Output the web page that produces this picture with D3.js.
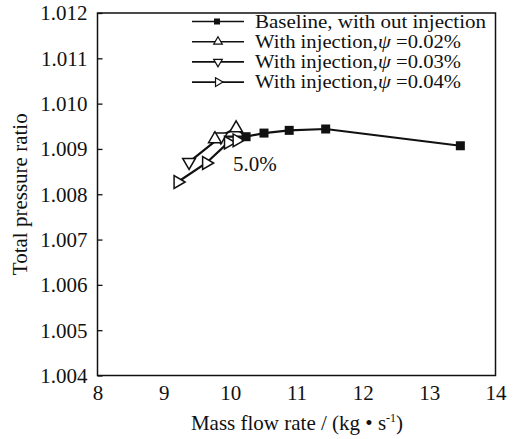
<!DOCTYPE html>
<html><head><meta charset="utf-8">
<script src="https://cdn.jsdelivr.net/npm/d3@7"></script>
<style>body{margin:0;background:#fff}svg{display:block}text{font-family:"Liberation Serif","Times New Roman",serif;fill:#111}</style>
</head><body>
<script>
// Data
const baselineX = [10.24, 10.51, 10.89, 11.44, 13.47];
const baselineY = [1.00927, 1.00935, 1.00941, 1.00944, 1.00907];
const inj02X = [9.77, 10.09];
const inj02Y = [1.00922, 1.00946];
const inj03X = [9.38, 9.86];
const inj03Y = [1.00871, 1.00927];
const inj04X = [9.21, 9.64, 9.97, 10.10];
const inj04Y = [1.00827, 1.00869, 1.00914, 1.00919];
const xTicks = [8, 9, 10, 11, 12, 13, 14];
const yTicks = [1.004, 1.005, 1.006, 1.007, 1.008, 1.009, 1.010, 1.011, 1.012];
const legendLabels = ["Baseline, with out injection", "With injection,ψ =0.02%", "With injection,ψ =0.03%", "With injection,ψ =0.04%"];
const annotation = "5.0%";

const W = 516, H = 439;
const FS = "21px";
const m = {l: 97.5, t: 13, r: 495.5, b: 375.5};
const svg = d3.select("body").append("svg").attr("width", W).attr("height", H);
const x = d3.scaleLinear().domain([8, 14]).range([m.l, m.r]);
const y = d3.scaleLinear().domain([1.004, 1.012]).range([m.b, m.t]);

// frame
svg.append("rect").attr("x", m.l).attr("y", m.t).attr("width", m.r - m.l).attr("height", m.b - m.t)
  .attr("fill", "none").attr("stroke", "#111").attr("stroke-width", 1.5);

// y axis (inward ticks)
const ya = svg.append("g").attr("transform", `translate(${m.l},0)`)
  .call(d3.axisLeft(y).tickValues(yTicks).tickFormat(d3.format(".3f")).tickSize(-5).tickPadding(10));
ya.select(".domain").remove();
ya.selectAll("line").attr("stroke", "#111").attr("stroke-width", 1.3);
ya.selectAll("text").style("font-size", FS).attr("fill", "#111").attr("dy", "0.33em");

// x axis
const xa = svg.append("g").attr("transform", `translate(0,${m.b})`)
  .call(d3.axisBottom(x).tickValues(xTicks).tickFormat(d3.format("d")).tickSize(0).tickPadding(9));
xa.select(".domain").remove();
xa.selectAll("text").style("font-size", FS).attr("fill", "#111").attr("dy", "0.72em");

// titles
svg.append("text").attr("transform", `translate(27,${(m.t + m.b) / 2}) rotate(-90)`)
  .attr("text-anchor", "middle").style("font-size", FS).text("Total pressure ratio");
const xt = svg.append("text").attr("x", 297).attr("y", 430).attr("text-anchor", "middle").style("font-size", FS);
xt.append("tspan").text("Mass flow rate / (kg • s");
xt.append("tspan").attr("dy", -8).style("font-size", "12px").text("-1");
xt.append("tspan").attr("dy", 8).text(")");

const line = d3.line().x(d => x(d[0])).y(d => y(d[1]));
const zip = (a, b) => a.map((v, i) => [v, b[i]]);
const base = zip(baselineX, baselineY);
const s02 = zip(inj02X, inj02Y), s03 = zip(inj03X, inj03Y), s04 = zip(inj04X, inj04Y);

const tri = d3.symbol().type(d3.symbolTriangle).size(70)();
function marker(g, kind, px, py) {
  if (kind === "sq") {
    g.append("rect").attr("x", px - 4.5).attr("y", py - 4.5).attr("width", 9).attr("height", 9).attr("fill", "#111");
  } else {
    const rot = kind === "up" ? 0 : kind === "down" ? 180 : 90;
    g.append("path").attr("d", tri).attr("transform", `translate(${px},${py}) rotate(${rot})`)
      .attr("fill", "#fff").attr("stroke", "#111").attr("stroke-width", 1.5);
  }
}

const lg = svg.append("g");
[s02, s03, s04].forEach(s => {
  lg.append("path").attr("d", line(s.concat([base[0]]))).attr("fill", "none").attr("stroke", "#111").attr("stroke-width", 2.2);
});
lg.append("path").attr("d", line(base)).attr("fill", "none").attr("stroke", "#111").attr("stroke-width", 2.2);

const mg = svg.append("g");
s03.forEach(d => marker(mg, "down", x(d[0]), y(d[1])));
s04.forEach(d => marker(mg, "right", x(d[0]), y(d[1])));
s02.forEach(d => marker(mg, "up", x(d[0]), y(d[1])));
base.forEach(d => marker(mg, "sq", x(d[0]), y(d[1])));

svg.append("text").attr("x", 233).attr("y", 171).style("font-size", FS).text(annotation);

// legend
const kinds = ["sq", "up", "down", "right"];
const legendWidths = [231, 206, 206, 206];
legendLabels.forEach((lab, i) => {
  const cy = 21.5 + i * 20.2;
  const g = svg.append("g");
  g.append("line").attr("x1", 192).attr("x2", 244).attr("y1", cy).attr("y2", cy).attr("stroke", "#111").attr("stroke-width", 1.6);
  if (kinds[i] === "sq") {
    g.append("rect").attr("x", 214).attr("y", cy - 3).attr("width", 6).attr("height", 6).attr("fill", "#111");
  } else {
    const rot = kinds[i] === "up" ? 0 : kinds[i] === "down" ? 180 : 90;
    g.append("path").attr("d", d3.symbol().type(d3.symbolTriangle).size(32)())
      .attr("transform", `translate(218,${cy}) rotate(${rot})`).attr("fill", "#fff").attr("stroke", "#111").attr("stroke-width", 1.2);
  }
  const t = g.append("text").attr("x", 255).attr("y", cy).attr("dy", "0.34em").style("font-size", "18px")
    .attr("textLength", legendWidths[i]).attr("lengthAdjust", "spacingAndGlyphs");
  if (i === 0) t.text(lab);
  else {
    const [a, b] = lab.split("ψ");
    t.append("tspan").text(a);
    t.append("tspan").style("font-style", "italic").text("ψ");
    t.append("tspan").text(b);
  }
});
</script>
</body></html>
